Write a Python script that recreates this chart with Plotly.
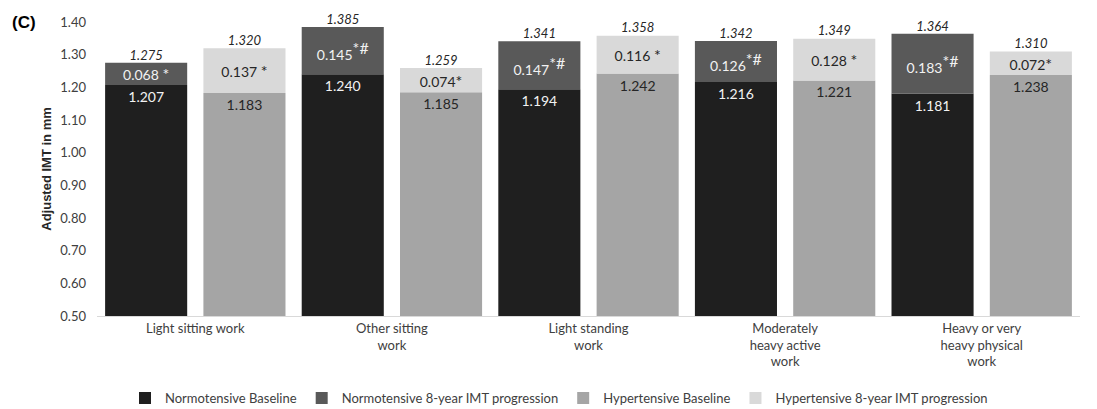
import plotly.graph_objects as go

# Work categories (x axis)
categories = [
    "Light sitting work",
    "Other sitting<br>work",
    "Light standing<br>work",
    "Moderately<br>heavy active<br>work",
    "Heavy or very<br>heavy physical<br>work",
]

# Adjusted IMT (mm) per group
normo_baseline = [1.207, 1.240, 1.194, 1.216, 1.181]
normo_progression = [0.068, 0.145, 0.147, 0.126, 0.183]
hyper_baseline = [1.183, 1.185, 1.242, 1.221, 1.238]
hyper_progression = [0.137, 0.074, 0.116, 0.128, 0.072]

# Significance markers attached to the progression values
BIG = '<span style="font-size:16px">{}</span>'
normo_marks = [" " + BIG.format("*"),
               "<sup>" + BIG.format("*#") + "</sup>",
               "<sup>" + BIG.format("*#") + "</sup>",
               "<sup>" + BIG.format("*#") + "</sup>",
               "<sup>" + BIG.format("*#") + "</sup>"]
hyper_marks = [" " + BIG.format("*"), BIG.format("*"), " " + BIG.format("*"),
               " " + BIG.format("*"), BIG.format("*")]

normo_total = [b + p for b, p in zip(normo_baseline, normo_progression)]
hyper_total = [b + p for b, p in zip(hyper_baseline, hyper_progression)]

C_NB = "#1f1f1f"
C_NP = "#595959"
C_HB = "#a5a5a5"
C_HP = "#d9d9d9"
TXT_DARK = "#262626"
TXT_LIGHT = "#f2f2f2"
FONT = "Lato"

fig = go.Figure()


def seg_bar(name, y, base, color, labels, txtcolor, anchor):
    fig.add_trace(go.Bar(
        name=name,
        x=categories,
        y=y,
        base=base,
        offsetgroup="N" if name.startswith("Normo") else "H",
        marker=dict(color=color, line=dict(width=0)),
        text=labels,
        textposition="inside",
        insidetextanchor=anchor,
        constraintext="none",
        textangle=0,
        insidetextfont=dict(family=FONT, size=14, color=txtcolor),
        hoverinfo="skip",
    ))


seg_bar("Normotensive Baseline", normo_baseline, None, C_NB,
        [f"{v:.3f}" for v in normo_baseline], TXT_LIGHT, "end")
seg_bar("Normotensive 8-year IMT progression", normo_progression, normo_baseline, C_NP,
        [f"{v:.3f}{m}" for v, m in zip(normo_progression, normo_marks)], TXT_LIGHT, "middle")
seg_bar("Hypertensive Baseline", hyper_baseline, None, C_HB,
        [f"{v:.3f}" for v in hyper_baseline], TXT_DARK, "end")
seg_bar("Hypertensive 8-year IMT progression", hyper_progression, hyper_baseline, C_HP,
        [f"{v:.3f}{m}" for v, m in zip(hyper_progression, hyper_marks)], TXT_DARK, "middle")

# Totals written in italics above each stack
for grp, totals in (("N", normo_total), ("H", hyper_total)):
    fig.add_trace(go.Scatter(
        x=categories,
        y=totals,
        offsetgroup=grp,
        mode="text",
        text=[f"<i>{t:.3f}</i>" for t in totals],
        textposition="top center",
        textfont=dict(family=FONT, size=13, color=TXT_DARK),
        cliponaxis=False,
        showlegend=False,
        hoverinfo="skip",
    ))

fig.update_layout(
    width=1097,
    height=409,
    margin=dict(l=97, r=17, t=22, b=93, autoexpand=False),
    paper_bgcolor="white",
    plot_bgcolor="white",
    barmode="group",
    bargap=0.0,
    bargroupgap=0.165,
    scattermode="group",
    scattergap=0.0,
    font=dict(family=FONT, size=13, color="#404040"),
    showlegend=True,
    legend=dict(
        orientation="h",
        x=0.47,
        xanchor="center",
        y=-0.279,
        yanchor="middle",
        font=dict(family=FONT, size=13, color="#404040"),
        itemwidth=30,
        traceorder="normal",
    ),
    annotations=[dict(
        text="<b>(C)</b>",
        xref="paper", yref="paper",
        x=-0.088, y=1.0,
        xanchor="left", yanchor="middle",
        showarrow=False,
        font=dict(family="Liberation Sans", size=17, color="black"),
    )],
)

fig.update_xaxes(
    showline=True,
    linecolor="#d9d9d9",
    linewidth=1,
    ticks="",
    showgrid=False,
    automargin=False,
    tickfont=dict(family=FONT, size=13, color="#404040"),
)
fig.update_yaxes(
    range=[0.5, 1.4],
    dtick=0.1,
    tick0=0.5,
    tickformat=".2f",
    showgrid=False,
    zeroline=False,
    showline=False,
    ticks="",
    ticklabelstandoff=10,
    automargin=False,
    tickfont=dict(family=FONT, size=13, color="#404040"),
    title=dict(
        text="<b>Adjusted IMT in mm</b>",
        font=dict(family="Liberation Sans", size=13, color="#262626"),
        standoff=5,
    ),
)

fig.write_html("out.html")
